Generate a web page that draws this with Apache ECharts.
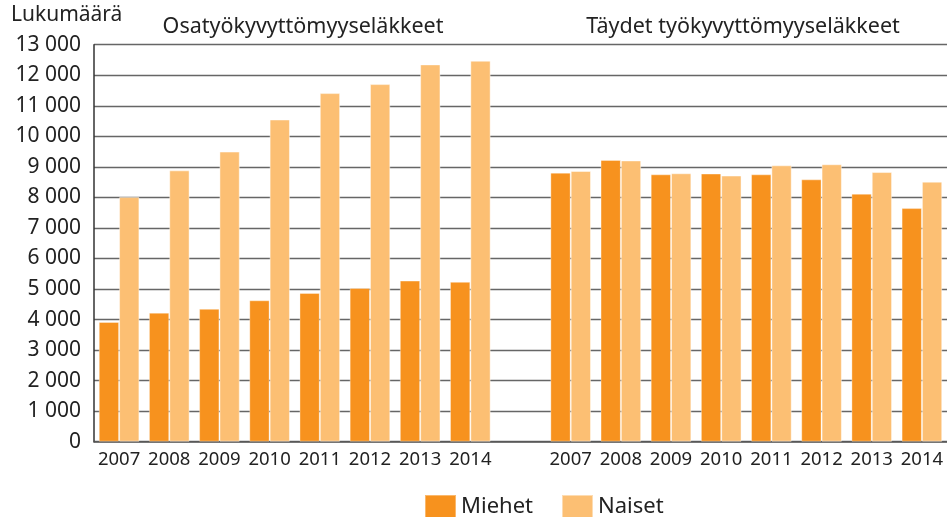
<!DOCTYPE html>
<html>
<head>
<meta charset="utf-8">
<script src="https://cdn.jsdelivr.net/npm/echarts@6/dist/echarts.min.js"></script>
<style>
html,body{margin:0;padding:0;background:#fff;}
#chart{width:947px;height:517px;}
</style>
</head>
<body>
<div id="chart"></div>
<script>
var years = ['2007','2008','2009','2010','2011','2012','2013','2014'];
var groupTitles = ['Osatyökyvyttömyyseläkkeet', 'Täydet työkyvyttömyyseläkkeet'];
var seriesNames = ['Miehet', 'Naiset'];
var partMen   = [3920, 4225, 4350, 4630, 4870, 5035, 5275, 5235];
var partWomen = [8010, 8885, 9500, 10550, 11415, 11710, 12355, 12475];
var fullMen   = [8810, 9225, 8755, 8780, 8755, 8590, 8120, 7650];
var fullWomen = [8865, 9210, 8790, 8715, 9050, 9085, 8830, 8515];
var yTicks = [0,1000,2000,3000,4000,5000,6000,7000,8000,9000,10000,11000,12000,13000];

var categories = years.concat([''], years);
var menData = partMen.concat([null], fullMen);
var womenData = partWomen.concat([null], fullWomen);

var FONT = 'Noto Sans';
var chart = echarts.init(document.getElementById('chart'));
chart.setOption({
  animation: false,
  textStyle: { fontFamily: FONT },
  grid: { left: 94, right: -3, top: 44.7, bottom: 75.3, containLabel: false },
  legend: {
    left: 419, top: 489,
    itemWidth: 31, itemHeight: 23, itemGap: 28,
    icon: 'rect',
    textStyle: { fontSize: 22, color: '#222', fontFamily: FONT },
    data: seriesNames
  },
  graphic: [
    { type: 'text', left: 11, top: 5, style: { text: 'Lukumäärä', fontSize: 21, fill: '#222', fontFamily: FONT } },
    { type: 'text', x: 303, y: 38, style: { text: groupTitles[0], fontSize: 21.5, fill: '#222', fontFamily: FONT, textAlign: 'center', textVerticalAlign: 'bottom' } },
    { type: 'text', x: 743, y: 38, style: { text: groupTitles[1], fontSize: 21.5, fill: '#222', fontFamily: FONT, textAlign: 'center', textVerticalAlign: 'bottom' } }
  ],
  xAxis: {
    type: 'category',
    data: categories,
    axisTick: { show: false },
    axisLine: { lineStyle: { color: '#555', width: 1.5 } },
    axisLabel: { fontSize: 18.5, color: '#222', margin: 9, interval: 0, fontFamily: FONT }
  },
  yAxis: {
    type: 'value',
    min: yTicks[0], max: yTicks[yTicks.length-1], interval: 1000,
    axisLine: { show: true, lineStyle: { color: '#333', width: 1.5 } },
    axisTick: { show: false },
    splitLine: { lineStyle: { color: '#666', width: 1.3 } },
    axisLabel: {
      fontSize: 21, color: '#222', margin: 13, fontFamily: FONT,
      formatter: function (v) { return v >= 1000 ? Math.floor(v/1000) + ' ' + String(v % 1000).padStart(3,'0') : String(v); }
    }
  },
  series: [
    { name: seriesNames[0], type: 'bar', data: menData, barGap: '0%', barCategoryGap: '19%',
      itemStyle: { color: '#F7921E', borderColor: 'rgba(255,255,255,0.35)', borderWidth: 1 } },
    { name: seriesNames[1], type: 'bar', data: womenData, barGap: '0%', barCategoryGap: '19%',
      itemStyle: { color: '#FCBF73', borderColor: 'rgba(255,255,255,0.45)', borderWidth: 1 } }
  ]
});
</script>
</body>
</html>
